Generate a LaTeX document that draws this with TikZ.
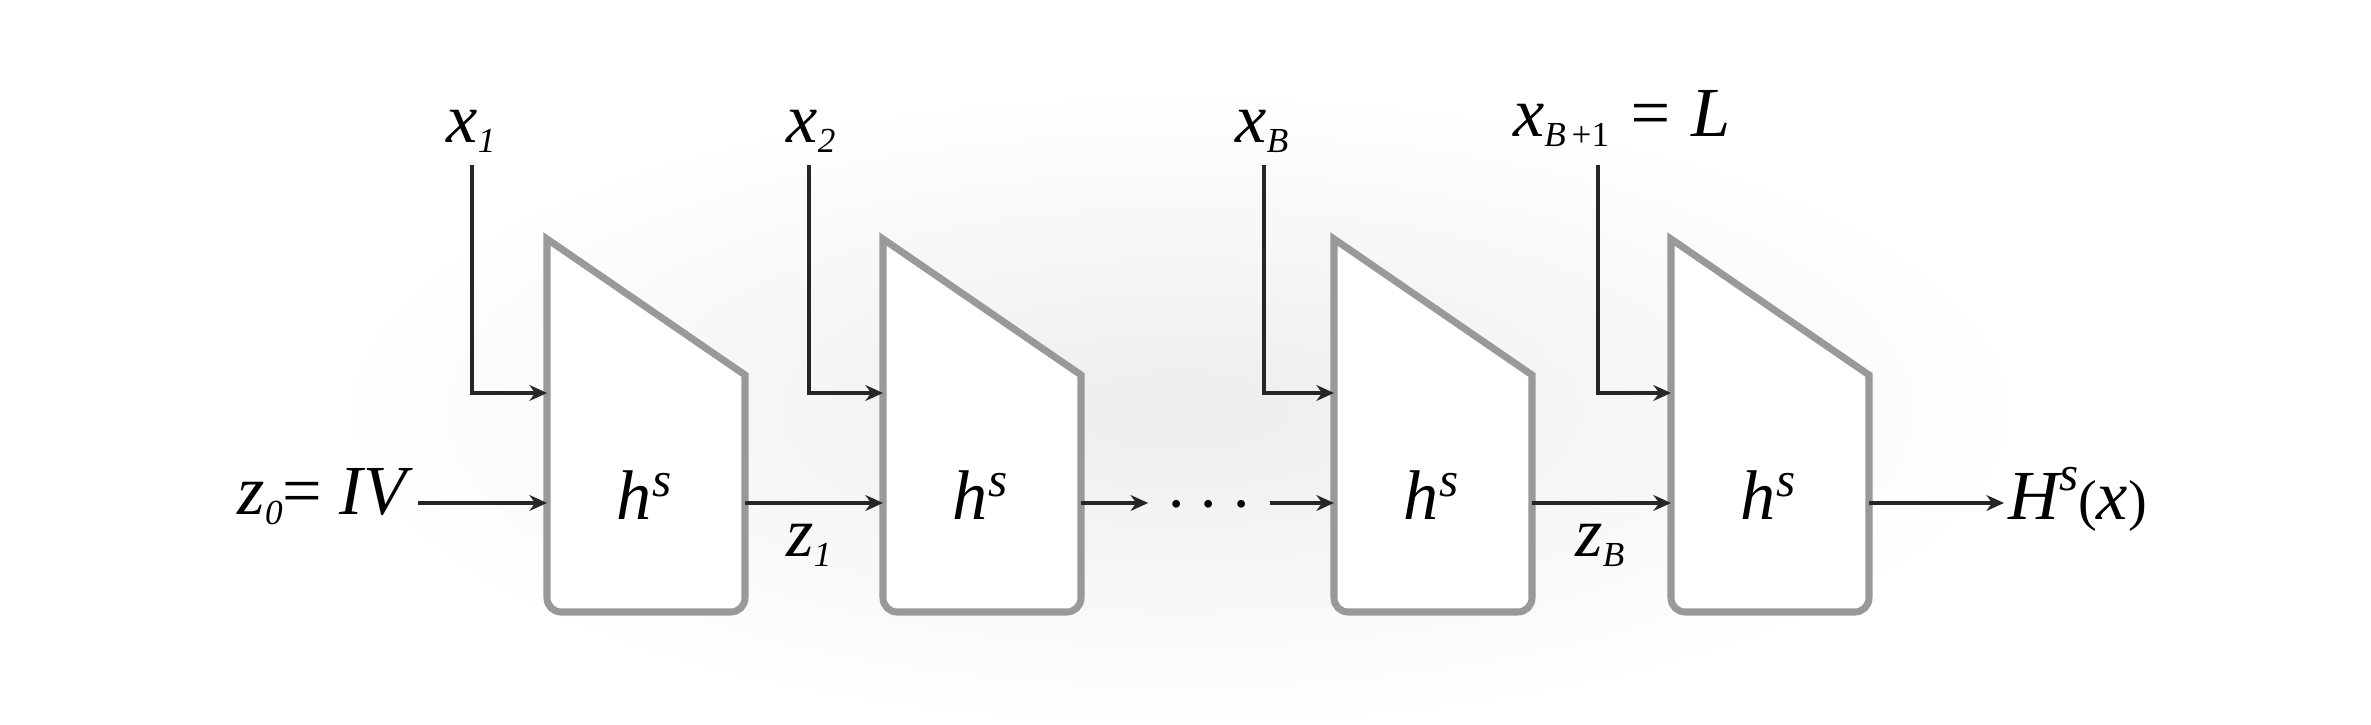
\documentclass[tikz,border=0pt]{standalone}
\usepackage{fontspec}
\setmainfont{Liberation Serif}
\usetikzlibrary{arrows.meta}
\newcommand\sub[1]{\raisebox{-0.14em}{\fontsize{10}{12}\selectfont #1}}
\newcommand\supr[2][0.33em]{\raisebox{#1}{\fontsize{14}{16}\selectfont #2}}
\begin{document}
\begin{tikzpicture}[x=0.01cm,y=-0.01cm,
    lbl/.style={font=\fontsize{20}{24}\selectfont\itshape,inner sep=0pt},
    hblock/.style={draw=black!40,line width=2pt,fill=white,line join=miter},
    wire/.style={draw=black!85,line width=0.9pt},
    arr/.style={wire,-{Stealth[length=5pt,width=4.5pt]}}]
  \useasboundingbox (0,0) rectangle (2371,725);
  \shade[inner color=black!7,outer color=white] (1180,410) ellipse (850 and 320);
  % blocks
  \draw[hblock] (547,239) -- (745,375) [rounded corners=4pt] -- (745,612) -- (547,612) [sharp corners] -- cycle;
  \draw[hblock] (883,239) -- (1081,375) [rounded corners=4pt] -- (1081,612) -- (883,612) [sharp corners] -- cycle;
  \draw[hblock] (1334,239) -- (1532,375) [rounded corners=4pt] -- (1532,612) -- (1334,612) [sharp corners] -- cycle;
  \draw[hblock] (1671,239) -- (1869,375) [rounded corners=4pt] -- (1869,612) -- (1671,612) [sharp corners] -- cycle;
  \draw
    (644,520) node[lbl,anchor=base] (h1){h\supr{s}}
    (980,520) node[lbl,anchor=base] (h2){h\supr{s}}
    (1431,520) node[lbl,anchor=base] (h3){h\supr{s}}
    (1768,520) node[lbl,anchor=base] (h4){h\supr{s}};
  % block ports
  \coordinate (b1n) at (547,393);
  \coordinate (b2n) at (883,393);
  \coordinate (b3n) at (1334,393);
  \coordinate (b4n) at (1671,393);
  \coordinate (b1w) at (547,503);
  \coordinate (b2w) at (883,503);
  \coordinate (b3w) at (1334,503);
  \coordinate (b4w) at (1671,503);
  \coordinate (b1e) at (745,503);
  \coordinate (b2e) at (1081,503);
  \coordinate (b3e) at (1532,503);
  \coordinate (b4e) at (1869,503);
  % labels
  \draw
    (471,143) node[lbl,anchor=base] (x1){x\sub{1}}
    (811,143) node[lbl,anchor=base] (x2){x\sub{2}}
    (1262,143) node[lbl,anchor=base] (xB){x\sub{B}}
    (1622,137) node[lbl,anchor=base] (xL){x\sub{B\,\upshape+1} = L}
    (407,515) node[lbl,anchor=base east] (z0){z\sub{0}\upshape=\itshape\ IV}
    (809,557) node[lbl,anchor=base] (z1){z\sub{1}}
    (1600,557) node[lbl,anchor=base] (zB){z\sub{B}}
    (1209,506) node[lbl,inner sep=5pt] (dots){$\cdots$}
    (2004,520) node[lbl,anchor=base west,inner sep=1pt] (Hx){H\supr[0.42em]{s}{\fontsize{16}{18}\selectfont\upshape(}x{\fontsize{16}{18}\selectfont\upshape)}};
  \coordinate (t1) at (472,165);
  \coordinate (t2) at (809,165);
  \coordinate (tB) at (1264,165);
  \coordinate (tL) at (1598,165);
  \begin{scope}[arr]
    \draw (t1) |- (b1n);
    \draw (t2) |- (b2n);
    \draw (tB) |- (b3n);
    \draw (tL) |- (b4n);
    \draw ([xshift=3pt]b1w -| z0.east) to (b1w);
    \draw (b1e) to (b2w);
    \draw (b2e) to (b2e -| dots.west);
    \draw (b3w -| dots.east) to (b3w);
    \draw (b3e) to (b4w);
    \draw (b4e) to (b4e -| Hx.west);
  \end{scope}
\end{tikzpicture}
\end{document}
